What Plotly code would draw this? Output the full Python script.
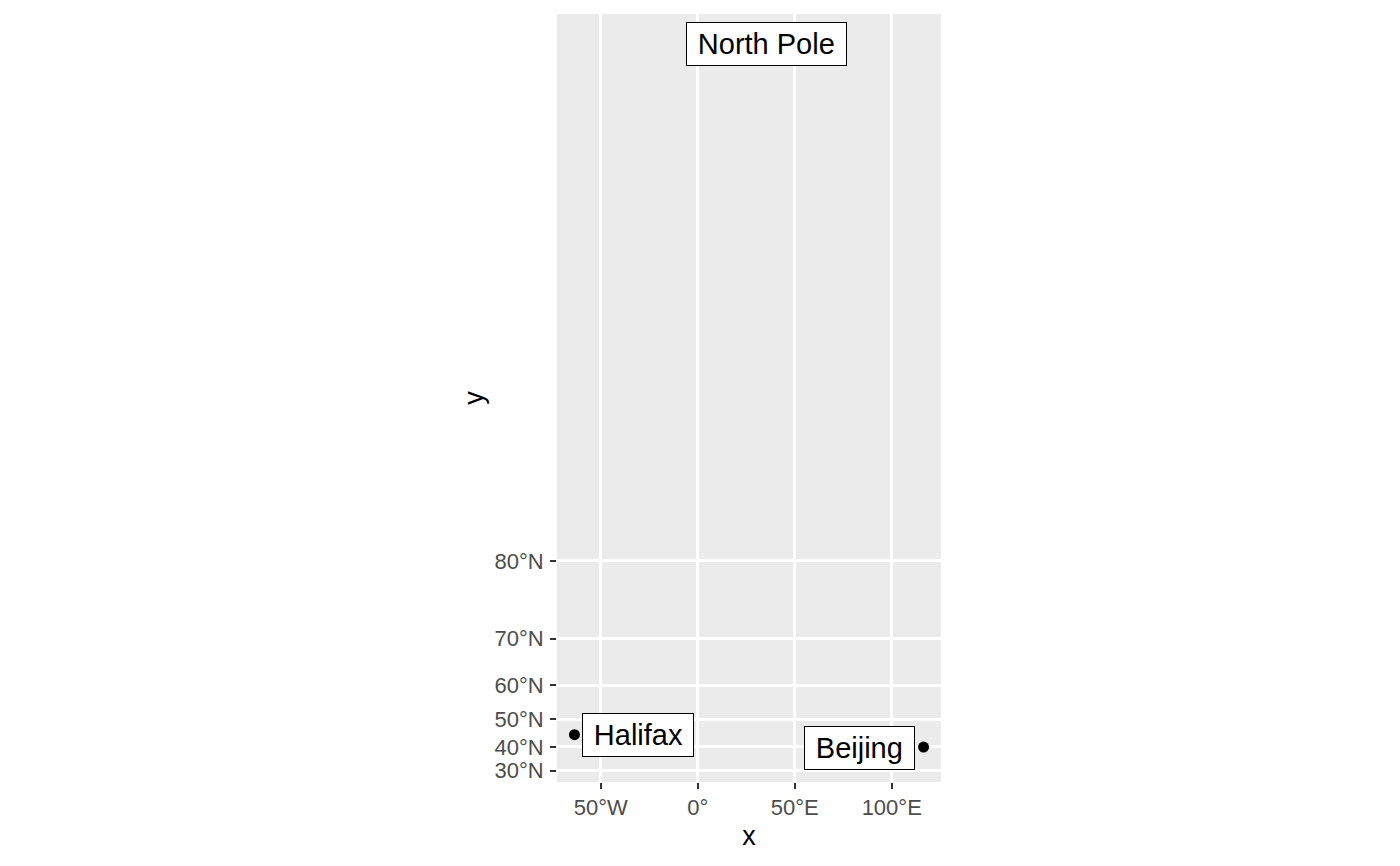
import numpy as np
import plotly.graph_objects as go

# cities (lon / lat in degrees)
city_names = ["Halifax", "Beijing", "North Pole"]
city_lon = [-63.57, 116.4, 0.0]
city_lat = [44.65, 39.9, 89.9]

# label nudges in screen pixels (like ggrepel pushed them)
label_dx = [64, -64, 69]
label_dy = [0, 1, -5]

lat_ticks = [30, 40, 50, 60, 70, 80]
lon_ticks = [-50, 0, 50, 100]
lon_labels = ["50°W", "0°", "50°E", "100°E"]


def merc(lat):
    lat = np.radians(np.asarray(lat, dtype=float))
    return np.log(np.tan(np.pi / 4 + lat / 2))


# x in radians so both axes share the same units as coord_map
def lon_rad(lon):
    return np.radians(np.asarray(lon, dtype=float))


xs = lon_rad(city_lon)
ys = merc(city_lat)

# ggplot-style 5% expansion of the data range
xr = xs.max() - xs.min()
yr = ys.max() - ys.min()
x_range = [xs.min() - 0.05 * xr, xs.max() + 0.05 * xr]
y_range = [ys.min() - 0.05 * yr, ys.max() + 0.05 * yr]

font = "Liberation Sans, Arial, sans-serif"

fig = go.Figure()
fig.add_trace(go.Scatter(x=xs, y=ys, mode="markers",
                         marker=dict(color="black", size=11),
                         showlegend=False, hoverinfo="text",
                         text=city_names))

for name, x, y, dx, dy in zip(city_names, xs, ys, label_dx, label_dy):
    fig.add_annotation(x=x, y=y, text="\u2009" + name + "\u2009", showarrow=True,
                       ax=dx, ay=dy, arrowcolor="rgba(0,0,0,0)",
                       arrowwidth=0.1,
                       font=dict(family=font, size=29, color="black"),
                       bgcolor="white", bordercolor="black",
                       borderwidth=1, borderpad=5)

fig.update_layout(
    width=1400, height=866,
    margin=dict(l=549, r=467, t=6, b=92),
    plot_bgcolor="#EBEBEB", paper_bgcolor="white",
    font=dict(family=font),
)
fig.update_xaxes(range=x_range, tickvals=lon_rad(lon_ticks), ticktext=lon_labels,
                 showgrid=True, gridcolor="white", gridwidth=2.5, zeroline=False,
                 ticks="outside", ticklen=6, tickwidth=2, tickcolor="#333333",
                 tickfont=dict(size=22, color="#4D4D4D"),
                 title=dict(text="x", font=dict(size=27, color="black"), standoff=6))
fig.update_yaxes(range=y_range, tickvals=merc(lat_ticks),
                 ticktext=[f"{v}°N" for v in lat_ticks],
                 showgrid=True, gridcolor="white", gridwidth=2.5, zeroline=False,
                 ticks="outside", ticklen=6, tickwidth=2, tickcolor="#333333",
                 ticklabelstandoff=2,
                 tickfont=dict(size=22, color="#4D4D4D"),
                 title=dict(text="y", font=dict(size=27, color="black"), standoff=2))

fig.write_html("out.html")
